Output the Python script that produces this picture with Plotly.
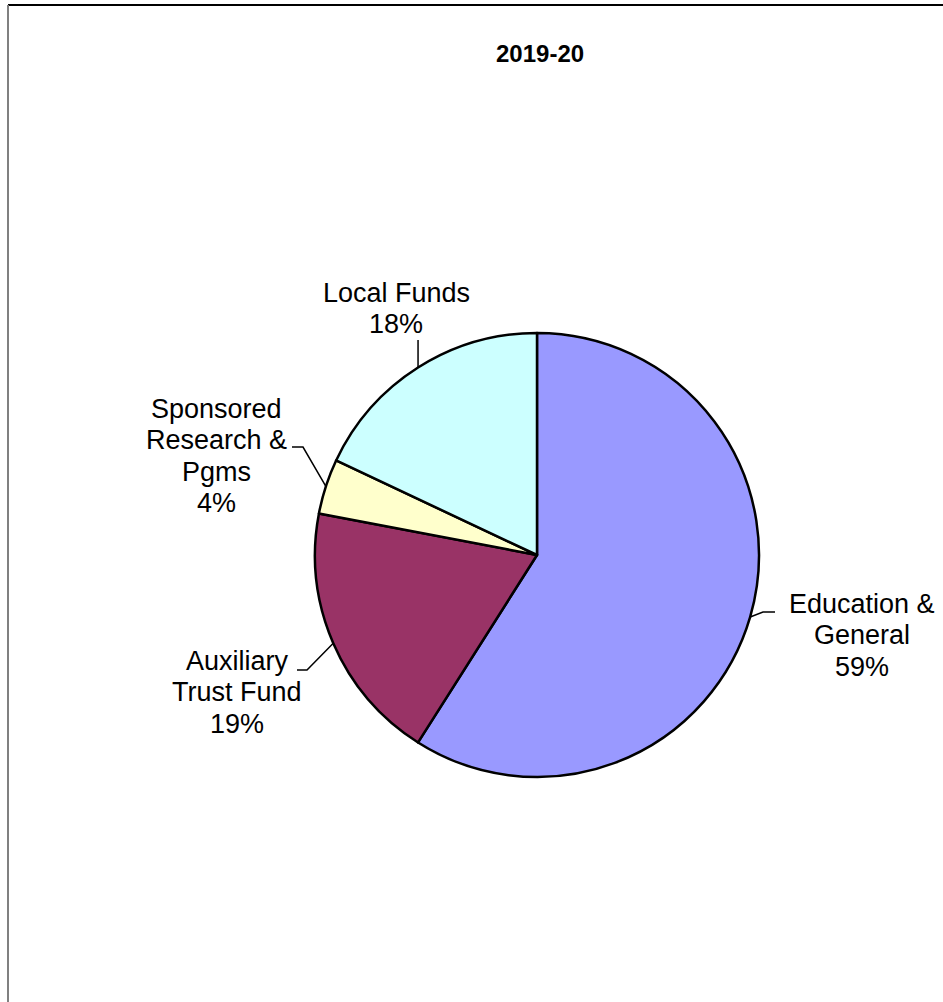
import math
import plotly.graph_objects as go

# ---- data ----
categories = ["Education &<br>General", "Auxiliary<br>Trust Fund",
              "Sponsored<br>Research &<br>Pgms", "Local Funds"]
values = [59, 19, 4, 18]
colors = ["#9999FF", "#993366", "#FFFFCC", "#CCFFFF"]
title_text = "2019-20"

# ---- layout constants (pixels) ----
W, H = 943, 1002
CX, CY, R = 537, 555, 222          # pie centre / radius in px
FONT = "Arial, Liberation Sans, sans-serif"
LABEL_SIZE = 27
LINE_GAP = 31.5
# label block centres and leader elbow/end points (px)
label_pos = [(862, 635), (237, 692), (216, 456), (396, 308.5)]
leader_pts = [[(763, 612), (775, 612)],
              [(307, 670), (297, 670)],
              [(303, 447), (292, 447)],
              [None, (None, 340)]]


def px(x):
    return x / W


def py(y):
    return 1 - y / H


fig = go.Figure(go.Pie(
    labels=[c.replace("<br>", " ") for c in categories],
    values=values,
    sort=False,
    direction="clockwise",
    rotation=0,
    marker=dict(colors=colors, line=dict(color="black", width=2.5)),
    textinfo="none",
    hoverinfo="label+percent",
    showlegend=False,
    domain=dict(x=[px(CX - R), px(CX + R)], y=[py(CY + R), py(CY - R)]),
))

total = sum(values)
cum = 0
shapes = []
annotations = []
for cat, v, (lx, ly), lp in zip(categories, values, label_pos, leader_pts):
    mid = (cum + v / 2) / total * 2 * math.pi
    cum += v
    ex = CX + R * math.sin(mid)
    ey = CY - R * math.cos(mid)
    pts = [(ex, ey)]
    for p in lp:
        if p is None:
            continue
        x, y = p
        pts.append((ex if x is None else x, y))
    path = "M " + " L ".join(f"{px(x)},{py(y)}" for x, y in pts)
    shapes.append(dict(type="path", xref="paper", yref="paper", path=path,
                       line=dict(color="black", width=1.5)))
    pct = round(v / total * 100)
    lines = cat.split("<br>") + [f"{pct}%"]
    n = len(lines)
    for i, t in enumerate(lines):
        yy = ly + (i - (n - 1) / 2) * LINE_GAP
        annotations.append(dict(x=px(lx), y=py(yy), xref="paper", yref="paper",
                                text=t, showarrow=False, xanchor="center",
                                yanchor="middle",
                                font=dict(family=FONT, size=LABEL_SIZE, color="black")))

annotations.append(dict(x=px(540), y=py(54), xref="paper", yref="paper",
                        text=f"<b>{title_text}</b>", showarrow=False,
                        xanchor="center", yanchor="middle",
                        font=dict(family=FONT, size=24, color="black")))

# outer chart border (top and left visible)
shapes.append(dict(type="line", xref="paper", yref="paper",
                   x0=px(8), x1=1.01, y0=py(5), y1=py(5),
                   line=dict(color="black", width=2)))
shapes.append(dict(type="line", xref="paper", yref="paper",
                   x0=px(8), x1=px(8), y0=py(5), y1=-0.01,
                   line=dict(color="#808080", width=2)))

fig.update_layout(
    width=W, height=H,
    margin=dict(l=0, r=0, t=0, b=0),
    paper_bgcolor="white", plot_bgcolor="white",
    shapes=shapes, annotations=annotations,
    font=dict(family=FONT),
)

fig.write_html("out.html",
               config={"displayModeBar": False},
               post_script="document.body.style.margin='0';"
                           "document.body.style.overflow='hidden';")
